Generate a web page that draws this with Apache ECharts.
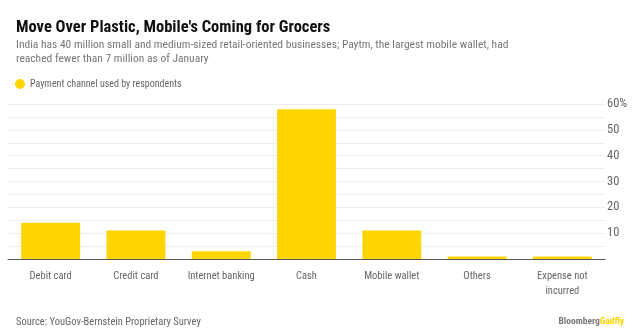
<!DOCTYPE html>
<html>
<head>
<meta charset="utf-8">
<script src="https://cdn.jsdelivr.net/npm/echarts@6/dist/echarts.min.js"></script>
<style>
  html, body { margin: 0; padding: 0; background: #fff; }
  #main { width: 640px; height: 331px; }
</style>
</head>
<body>
<div id="main"></div>
<script>
// data
var categories = ['Debit card', 'Credit card', 'Internet banking', 'Cash', 'Mobile wallet', 'Others', 'Expense not\nincurred']
var shares = [14, 11, 3, 58, 11, 1, 1]
var seriesName = 'Payment channel used by respondents'

var yellow = '#FFD500'
var narrow = "'Liberation Sans Narrow', 'Roboto Condensed', Roboto"
var chart = echarts.init(document.getElementById('main'))

var option = {
  animation: false,
  textStyle: { fontFamily: narrow },
  title: [
    {
      text: "Move Over Plastic, Mobile's Coming for Grocers",
      left: 11, top: 14,
      textStyle: { fontSize: 16.5, fontWeight: 'bold', color: '#111', fontFamily: narrow }
    },
    {
      text: 'India has 40 million small and medium-sized retail-oriented businesses; Paytm, the largest mobile wallet, had\nreached fewer than 7 million as of January',
      left: 11, top: 33,
      textStyle: { fontSize: 11.5, fontWeight: 'normal', color: '#777', lineHeight: 14, fontFamily: narrow }
    },
    {
      text: 'Source: YouGov-Bernstein Proprietary Survey',
      left: 11, top: 312,
      textStyle: { fontSize: 10.5, fontWeight: 'normal', color: '#666', fontFamily: narrow }
    },
    {
      text: '{a|Bloomberg}{b|Gadfly}',
      right: 11, top: 312,
      textStyle: {
        rich: {
          a: { fontSize: 9.5, color: '#777', fontWeight: 'bold', fontFamily: narrow },
          b: { fontSize: 9.5, color: yellow, fontWeight: 'bold', fontFamily: narrow }
        }
      }
    }
  ],
  legend: {
    left: 10, top: 74,
    icon: 'circle',
    itemWidth: 10, itemHeight: 10, itemGap: 6,
    textStyle: { fontSize: 10, color: '#666', fontFamily: narrow },
    data: [seriesName]
  },
  grid: { left: 8, right: 35, top: 104, bottom: 72 },
  xAxis: {
    type: 'category',
    data: categories,
    axisLine: { lineStyle: { color: '#555', width: 1 } },
    axisTick: { alignWithLabel: true, length: 4, lineStyle: { color: '#555' } },
    axisLabel: { interval: 0, fontSize: 10.5, color: '#666', margin: 10, lineHeight: 15, fontFamily: narrow }
  },
  yAxis: {
    type: 'value',
    position: 'right',
    min: 0, max: 60, interval: 5,
    axisLine: { show: false },
    axisTick: { show: false },
    splitLine: { lineStyle: { color: '#eee', width: 1 } },
    axisLabel: {
      fontSize: 12.5, color: '#666', margin: 2, fontFamily: narrow,
      formatter: function (v) {
        if (v === 0 || v % 10 !== 0) return ''
        return v === 60 ? v + '%' : String(v)
      }
    }
  },
  series: [{
    name: seriesName,
    type: 'bar',
    data: shares,
    barCategoryGap: '31%',
    itemStyle: { color: yellow }
  }]
}
chart.setOption(option)
</script>
</body>
</html>
